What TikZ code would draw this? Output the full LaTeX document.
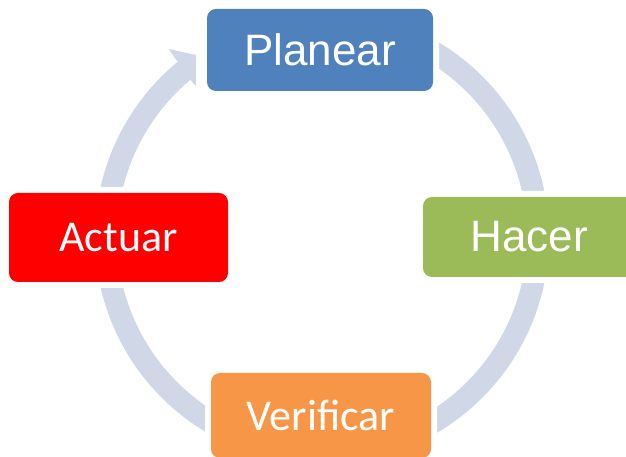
\documentclass[tikz,border=0pt]{standalone}
\usepackage{fontspec}
\usetikzlibrary{backgrounds}
\newfontfamily\arialfont{Liberation Sans}
\newfontfamily\calibrifont{Carlito}
\definecolor{planblue}{HTML}{4F81BD}
\definecolor{hacergreen}{HTML}{9BBB59}
\definecolor{verifyorange}{HTML}{F79646}
\definecolor{bandgrey}{HTML}{D0D8E8}

\begin{document}
\begin{tikzpicture}[x=1pt,y=1pt,
  stage node/.style={rectangle,rounded corners=9pt,inner sep=0pt,text=white,
    preaction={draw=white,line width=12pt}},
  arial/.style={font=\arialfont\fontsize{44}{50}\selectfont},
  calibri/.style={font=\calibrifont\fontsize{44}{50}\selectfont},
  band/.style={draw=bandgrey,line width=22pt}]

\useasboundingbox (0,0) rectangle (626,457);

\node[stage node,arial,fill=planblue,minimum width=226,minimum height=82] (P) at (320,407) {Planear};
\node[stage node,arial,fill=hacergreen,minimum width=212,minimum height=80] (H) at (529,220) {Hacer};
\node[stage node,calibri,fill=verifyorange,minimum width=220,minimum height=85] (V) at (321,41.5) {Verificar};
\node[stage node,calibri,fill=red,minimum width=219,minimum height=89] (A) at (118.5,219.5) {Actuar};

\coordinate (cyc) at (322,220);

% the band runs under the boxes, their white rims cut it off
\begin{scope}[on background layer]
\draw[band] ([shift={(90:216)}]cyc) arc[start angle=90,end angle=0,radius=216];
\draw[band] ([shift={(0:216)}]cyc) arc[start angle=0,end angle=-90,radius=216];
\draw[band] ([shift={(-90:216)}]cyc) arc[start angle=-90,end angle=-180,radius=216];
\draw[band] ([shift={(180:216)}]cyc) arc[start angle=180,end angle=128.5,radius=216];
\fill[bandgrey,shift={(P.west)}] (-38,1) -- (-11,-5) -- (-11,-36) -- (-18,-28) -- cycle;
\end{scope}

\end{tikzpicture}
\end{document}
